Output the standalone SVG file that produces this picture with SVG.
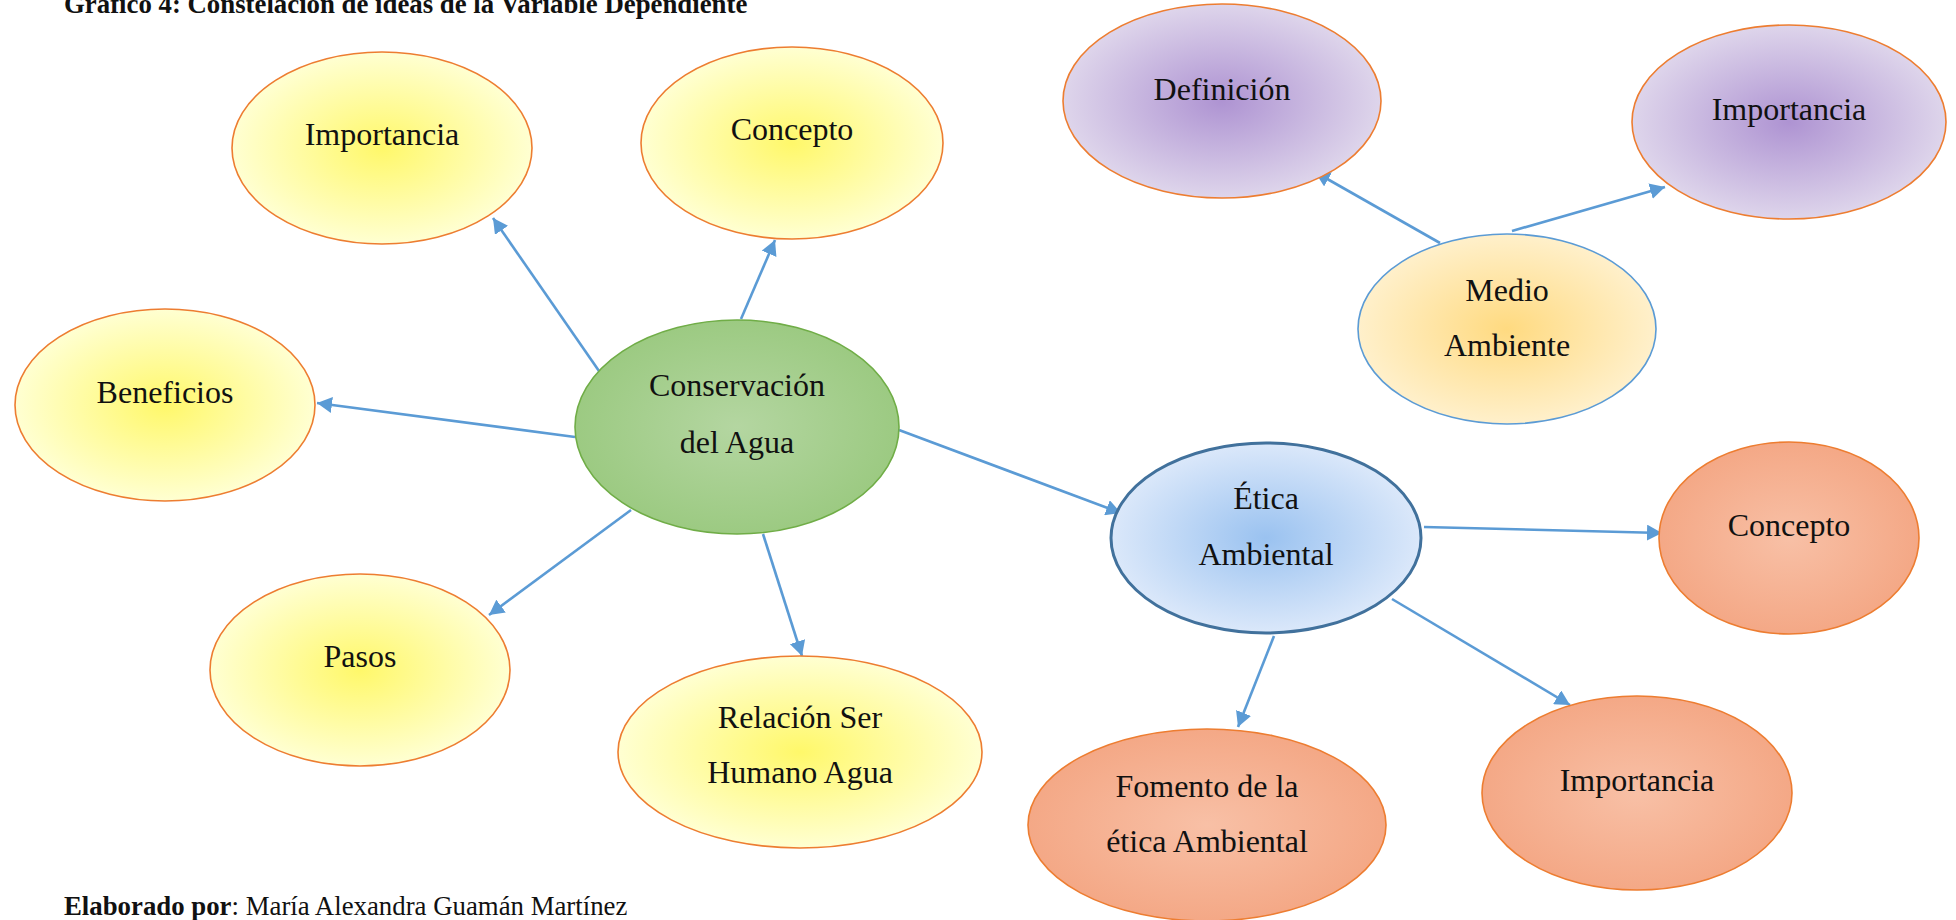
<svg xmlns="http://www.w3.org/2000/svg" width="1956" height="920" viewBox="0 0 1956 920">
<style>
  text { font-family: "Liberation Serif", "Times New Roman", serif; fill: #111; }
  .lbl { font-size: 32px; text-anchor: middle; }
  .cap { font-size: 26.8px; }
  .b { font-weight: bold; }
  .edge { stroke: #5B9BD5; stroke-width: 2.6; fill: none; marker-end: url(#arr); }
  .yel { fill: url(#gYel); stroke: #ED7D31; stroke-width: 1.6; }
  .pur { fill: url(#gPur); stroke: #ED7D31; stroke-width: 1.6; }
  .org { fill: url(#gOrg); stroke: #ED7D31; stroke-width: 1.6; }
  .grn { fill: url(#gGrn); stroke: #70AD47; stroke-width: 1.6; }
  .blu { fill: url(#gBlu); stroke: #41719C; stroke-width: 3; }
  .sun { fill: url(#gSun); stroke: #5B9BD5; stroke-width: 1.6; }
</style>
<defs>
  <marker id="arr" markerUnits="userSpaceOnUse" markerWidth="16" markerHeight="16" refX="15" refY="8" orient="auto">
    <path d="M0,0 L15,8 L0,16 z" fill="#5B9BD5"/>
  </marker>
  <radialGradient id="gYel" cx="50%" cy="50%" r="50%">
    <stop offset="0" stop-color="#FFF86A"/>
    <stop offset="1" stop-color="#FFFFD2"/>
  </radialGradient>
  <radialGradient id="gPur" cx="50%" cy="50%" r="50%">
    <stop offset="0" stop-color="#AE93D2"/>
    <stop offset="1" stop-color="#DED5EB"/>
  </radialGradient>
  <radialGradient id="gOrg" cx="50%" cy="50%" r="50%">
    <stop offset="0" stop-color="#F8C0A6"/>
    <stop offset="1" stop-color="#F4A886"/>
  </radialGradient>
  <radialGradient id="gGrn" cx="50%" cy="50%" r="50%">
    <stop offset="0" stop-color="#B4D6A1"/>
    <stop offset="1" stop-color="#9CCA82"/>
  </radialGradient>
  <radialGradient id="gBlu" cx="50%" cy="50%" r="50%">
    <stop offset="0" stop-color="#9AC2F0"/>
    <stop offset="1" stop-color="#DBE8FA"/>
  </radialGradient>
  <radialGradient id="gSun" cx="50%" cy="50%" r="50%">
    <stop offset="0" stop-color="#FFDA80"/>
    <stop offset="1" stop-color="#FFF0CB"/>
  </radialGradient>
</defs>

<text class="cap b" x="64" y="13">Gráfico 4: Constelación de ideas de la Variable Dependiente</text>

<g id="connectors">
  <line class="edge" x1="599" y1="371" x2="493" y2="218"/>
  <line class="edge" x1="741" y1="319" x2="775" y2="240"/>
  <line class="edge" x1="575" y1="437" x2="317" y2="403"/>
  <line class="edge" x1="631" y1="510" x2="489" y2="615"/>
  <line class="edge" x1="763" y1="534" x2="802" y2="656"/>
  <line class="edge" x1="899" y1="430" x2="1121" y2="513"/>
  <line class="edge" x1="1424" y1="527" x2="1662" y2="533"/>
  <line class="edge" x1="1392" y1="599" x2="1570" y2="705"/>
  <line class="edge" x1="1274" y1="636" x2="1238" y2="727"/>
  <line class="edge" x1="1440" y1="243" x2="1315" y2="172"/>
  <line class="edge" x1="1512" y1="231" x2="1665" y2="187"/>
</g>

<g id="n-importancia1">
  <ellipse class="yel" cx="382" cy="148" rx="150" ry="96"/>
  <text class="lbl" x="382" y="145">Importancia</text>
</g>
<g id="n-concepto1">
  <ellipse class="yel" cx="792" cy="143" rx="151" ry="96"/>
  <text class="lbl" x="792" y="140">Concepto</text>
</g>
<g id="n-beneficios">
  <ellipse class="yel" cx="165" cy="405" rx="150" ry="96"/>
  <text class="lbl" x="165" y="403">Beneficios</text>
</g>
<g id="n-pasos">
  <ellipse class="yel" cx="360" cy="670" rx="150" ry="96"/>
  <text class="lbl" x="360" y="667">Pasos</text>
</g>
<g id="n-relacion">
  <ellipse class="yel" cx="800" cy="752" rx="182" ry="96"/>
  <text class="lbl" x="800" y="728">Relación Ser</text>
  <text class="lbl" x="800" y="783">Humano Agua</text>
</g>
<g id="n-conservacion">
  <ellipse class="grn" cx="737" cy="427" rx="162" ry="107"/>
  <text class="lbl" x="737" y="396">Conservación</text>
  <text class="lbl" x="737" y="453">del Agua</text>
</g>
<g id="n-etica">
  <ellipse class="blu" cx="1266" cy="538" rx="155" ry="95"/>
  <text class="lbl" x="1266" y="509">Ética</text>
  <text class="lbl" x="1266" y="565">Ambiental</text>
</g>
<g id="n-definicion">
  <ellipse class="pur" cx="1222" cy="101" rx="159" ry="97"/>
  <text class="lbl" x="1222" y="100">Definición</text>
</g>
<g id="n-importancia2">
  <ellipse class="pur" cx="1789" cy="122" rx="157" ry="97"/>
  <text class="lbl" x="1789" y="120">Importancia</text>
</g>
<g id="n-medio">
  <ellipse class="sun" cx="1507" cy="329" rx="149" ry="95"/>
  <text class="lbl" x="1507" y="301">Medio</text>
  <text class="lbl" x="1507" y="356">Ambiente</text>
</g>
<g id="n-concepto2">
  <ellipse class="org" cx="1789" cy="538" rx="130" ry="96"/>
  <text class="lbl" x="1789" y="536">Concepto</text>
</g>
<g id="n-importancia3">
  <ellipse class="org" cx="1637" cy="793" rx="155" ry="97"/>
  <text class="lbl" x="1637" y="791">Importancia</text>
</g>
<g id="n-fomento">
  <ellipse class="org" cx="1207" cy="825" rx="179" ry="96"/>
  <text class="lbl" x="1207" y="797">Fomento de la</text>
  <text class="lbl" x="1207" y="852">ética Ambiental</text>
</g>

<text class="cap" x="64" y="915"><tspan class="b">Elaborado por</tspan>: María Alexandra Guamán Martínez</text>
</svg>
